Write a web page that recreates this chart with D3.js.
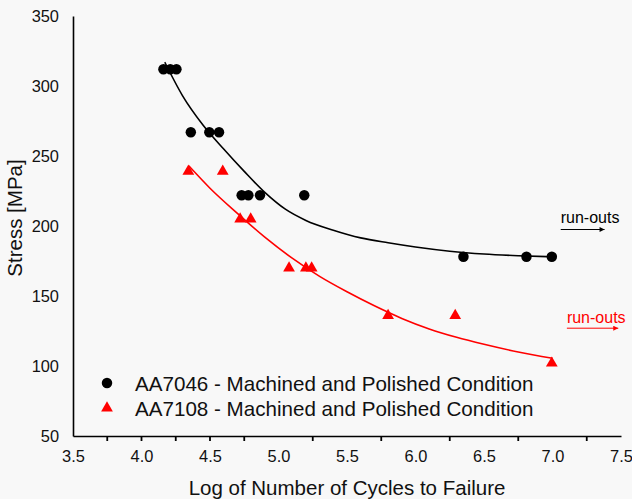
<!DOCTYPE html>
<html>
<head>
<meta charset="utf-8">
<script src="https://cdn.jsdelivr.net/npm/d3@7"></script>
<style>
  html, body { margin: 0; padding: 0; background: #f8f8f8; overflow: hidden; }
  svg { display: block; font-family: "Liberation Sans", Arial, sans-serif; }
</style>
</head>
<body>
<svg id="chart"></svg>
<script>
// AA7046 measured points
const blackLogN = [4.16, 4.21, 4.255, 4.36, 4.495, 4.566, 4.731, 4.78, 4.865, 5.188, 6.35, 6.81, 6.995];
const blackStress = [312, 312, 312, 267, 267, 267, 222, 222, 222, 222, 178, 178, 178];

// AA7108 measured points
const redLogN = [4.342, 4.593, 4.72, 4.797, 5.077, 5.2, 5.242, 5.8, 6.29, 6.995];
const redStress = [239, 239, 205, 205, 170, 170, 170, 136, 136, 102];

// fitted trend lines
const blackFitLogN = [4.17, 4.3, 4.45, 4.6, 4.75, 4.9, 5.05, 5.2, 5.4, 5.6, 5.8, 6.0, 6.25, 6.5, 6.75, 7.0];
const blackFitStress = [317, 293, 272, 255, 239, 224, 212, 204, 197, 191.5, 188, 185, 182, 180, 178.8, 178];
const redFitLogN = [4.345, 4.5, 4.7, 4.9, 5.1, 5.3, 5.5, 5.7, 5.9, 6.1, 6.3, 6.5, 6.75, 7.0];
const redFitStress = [243, 227, 209, 192, 177, 164, 153, 143, 134, 126.5, 120.5, 115.5, 110, 105.5];

const xLabelTicks = [3.5, 4.0, 4.5, 5.0, 5.5, 6.0, 6.5, 7.0, 7.5];
const xTickMarks = [3.75, 4.0, 4.25, 4.5, 4.75, 5.25, 5.75, 6.25, 6.75, 7.25];
const yTicks = [50, 100, 150, 200, 250, 300, 350];

const seriesNames = [
  "AA7046 - Machined and Polished Condition",
  "AA7108 - Machined and Polished Condition",
];
const seriesColors = ["#000000", "#ff0000"];

// run-out annotations (data units)
const runOuts = [
  { x: 7.06, y: 202, ax0: 7.06, ax1: 7.38, ay: 197.5, color: "#000000" },
  { x: 7.105, y: 130.5, ax0: 7.105, ax1: 7.48, ay: 127, color: "#ff0000" },
];

const outerWidth = 632;
const outerHeight = 499;
const margin = { top: 16, right: 11, bottom: 63, left: 73 };
const innerWidth = outerWidth - margin.left - margin.right;
const innerHeight = outerHeight - margin.top - margin.bottom;

const svg = d3
  .select("#chart")
  .attr("width", outerWidth)
  .attr("height", outerHeight);

const chart = svg
  .append("g")
  .attr("transform", `translate(${margin.left},${margin.top})`);

const x = d3.scaleLinear().domain([3.5, 7.5]).range([0, innerWidth]);
const y = d3.scaleLinear().domain([50, 350]).range([innerHeight, 0]);

// x axis: labels without tick marks, tick marks drawn separately
const xAxis = chart
  .append("g")
  .attr("transform", `translate(0,${innerHeight})`)
  .call(
    d3
      .axisBottom(x)
      .tickValues(xLabelTicks)
      .tickSize(0)
      .tickSizeOuter(0)
      .tickPadding(10)
      .tickFormat(d3.format(".1f")),
  );

chart
  .append("g")
  .selectAll("line")
  .data(xTickMarks)
  .join("line")
  .attr("x1", (d) => x(d))
  .attr("x2", (d) => x(d))
  .attr("y1", innerHeight)
  .attr("y2", innerHeight + 5)
  .attr("stroke", "#000")
  .attr("stroke-width", 1.8);

const yAxis = chart
  .append("g")
  .call(d3.axisLeft(y).tickValues(yTicks).tickSize(0).tickPadding(14));

[xAxis, yAxis].forEach((g) => {
  g.selectAll("path").attr("stroke", "#000").attr("stroke-width", 1.6);
  g.selectAll("text")
    .attr("fill", "#111")
    .style("font-size", "16.4px")
    .style("font-family", '"Liberation Sans", Arial, sans-serif');
});
xAxis.selectAll("text").attr("dy", "1.0em");

// fit curves
const line = d3
  .line()
  .x((d) => x(d[0]))
  .y((d) => y(d[1]))
  .curve(d3.curveMonotoneX);

chart
  .append("path")
  .datum(d3.zip(blackFitLogN, blackFitStress))
  .attr("fill", "none")
  .attr("stroke", seriesColors[0])
  .attr("stroke-width", 1.6)
  .attr("d", line);

chart
  .append("path")
  .datum(d3.zip(redFitLogN, redFitStress))
  .attr("fill", "none")
  .attr("stroke", seriesColors[1])
  .attr("stroke-width", 1.6)
  .attr("d", line);

// points
const circle = d3.symbol().type(d3.symbolCircle).size(86);
const triangle = d3.symbol().type(d3.symbolTriangle).size(60);

chart
  .append("g")
  .selectAll("path")
  .data(d3.zip(blackLogN, blackStress))
  .join("path")
  .attr("transform", (d) => `translate(${x(d[0])},${y(d[1])})`)
  .attr("d", circle)
  .attr("fill", seriesColors[0]);

chart
  .append("g")
  .selectAll("path")
  .data(d3.zip(redLogN, redStress))
  .join("path")
  .attr("transform", (d) => `translate(${x(d[0])},${y(d[1])})`)
  .attr("d", triangle)
  .attr("fill", seriesColors[1]);

// run-out labels and arrows
const defs = svg.append("defs");
runOuts.forEach((r, i) => {
  defs
    .append("marker")
    .attr("id", `arrow${i}`)
    .attr("viewBox", "0 0 10 10")
    .attr("refX", 10)
    .attr("refY", 5)
    .attr("markerWidth", 10)
    .attr("markerHeight", 5)
    .attr("markerUnits", "userSpaceOnUse")
    .attr("orient", "auto")
    .append("path")
    .attr("d", "M0,0L10,5L0,10Z")
    .attr("fill", r.color);

  chart
    .append("text")
    .attr("x", x(r.x))
    .attr("y", y(r.y))
    .attr("fill", r.color)
    .style("font-size", "16px")
    .text("run-outs");

  chart
    .append("line")
    .attr("x1", x(r.ax0))
    .attr("x2", x(r.ax1))
    .attr("y1", y(r.ay))
    .attr("y2", y(r.ay))
    .attr("stroke", r.color)
    .attr("stroke-width", 1)
    .attr("marker-end", `url(#arrow${i})`);
});

// legend
const legend = svg.append("g").attr("transform", "translate(107,383)");
seriesNames.forEach((name, i) => {
  const row = legend.append("g").attr("transform", `translate(0,${i * 25})`);
  row
    .append("path")
    .attr("d", i === 0 ? circle() : triangle())
    .attr("fill", seriesColors[i]);
  row
    .append("text")
    .attr("x", 28)
    .attr("y", 7.5)
    .attr("fill", "#111")
    .style("font-size", "20.6px")
    .text(name);
});

// axis titles
svg
  .append("text")
  .attr("x", margin.left + innerWidth / 2)
  .attr("y", 494.5)
  .attr("text-anchor", "middle")
  .attr("fill", "#111")
  .style("font-size", "20.5px")
  .text("Log of Number of Cycles to Failure");

svg
  .append("text")
  .attr("transform", "rotate(-90)")
  .attr("x", -218)
  .attr("y", 22)
  .attr("text-anchor", "middle")
  .attr("fill", "#111")
  .style("font-size", "20.5px")
  .text("Stress [MPa]");
</script>
</body>
</html>
